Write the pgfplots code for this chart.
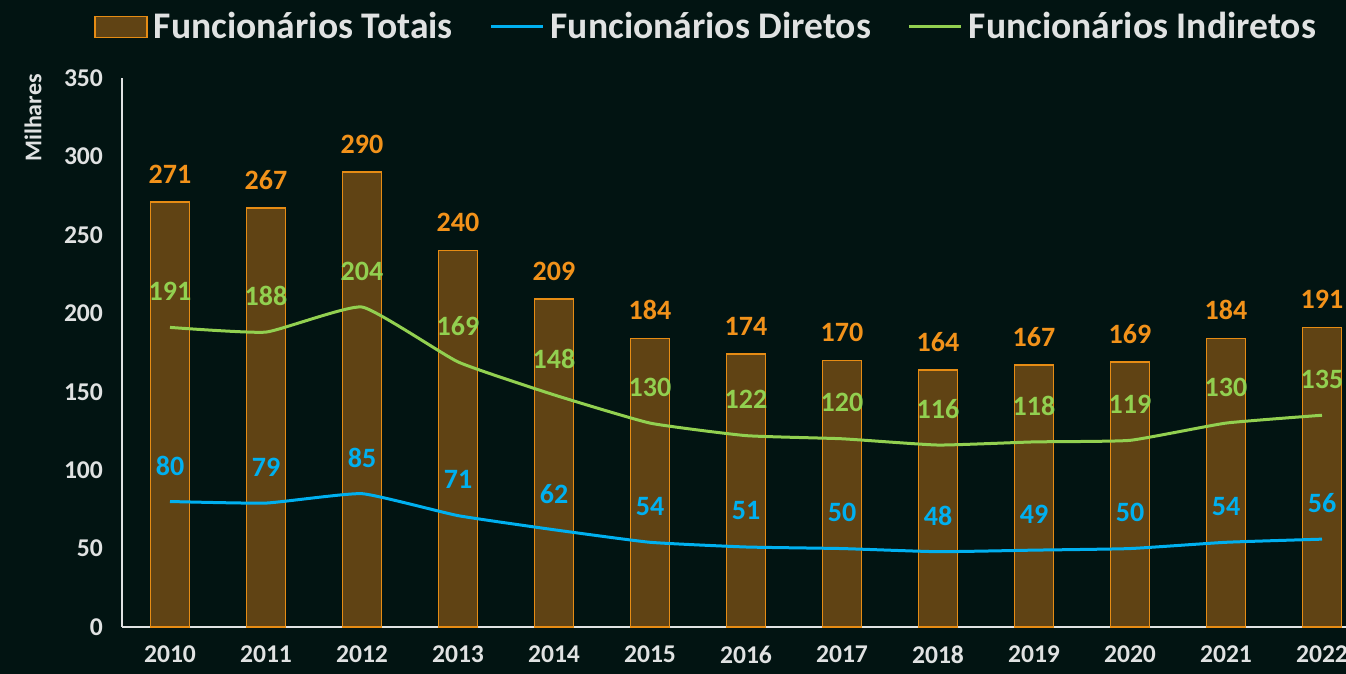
\documentclass[border=0pt]{standalone}
\usepackage{pgfplots}
\pgfplotsset{compat=1.18}
\usepackage{fontspec}
\setmainfont{Carlito}
\definecolor{bgc}{RGB}{2,20,18}
\definecolor{barfill}{RGB}{96,67,20}
\definecolor{baredge}{RGB}{230,140,20}
\definecolor{orlab}{RGB}{242,146,26}
\definecolor{blueline}{RGB}{0,176,240}
\definecolor{greenline}{RGB}{146,208,80}
\definecolor{txt}{RGB}{224,226,226}
\pgfplotsset{
  barleg/.style={legend image code/.code={\draw[##1] (0pt,-5.25pt) rectangle (26pt,5.25pt);}},
  lineleg/.style={legend image code/.code={\draw[##1] (0pt,0pt) -- (26pt,0pt);}},
}
\begin{document}
\begin{tikzpicture}[x=0.5pt,y=0.5pt]
\useasboundingbox[fill=bgc] (0,0) rectangle (1346,674);
\begin{axis}[
  at={(61pt,23.5pt)}, anchor=south west,
  scale only axis, width=612pt, height=274.5pt,
  xmin=-0.5, xmax=12.25, ymin=0, ymax=350,
  axis x line=bottom, axis y line=left,
  axis line style={draw=txt, line width=1pt, -},
  xtick={0,...,12},
  xticklabels={2010,2011,2012,2013,2014,2015,2016,2017,2018,2019,2020,2021,2022},
  ytick={0,50,...,350},
  major tick length=0pt,
  /pgf/number format/assume math mode=true,
  tick label style={font=\fontsize{12.8}{14}\selectfont\bfseries, text=txt},
  xticklabel style={yshift=-6pt},
  yticklabel style={xshift=-6pt},
  ylabel={Milhares},
  ylabel style={at={(axis description cs:-0.0727,0.927)}, anchor=center, font=\fontsize{12}{14}\selectfont\bfseries, text=txt},
  clip=false,
  legend columns=3,
  legend style={at={(axis description cs:0.478,1.093)}, anchor=center, draw=none, fill=none,
    text=txt, font=\fontsize{18.8}{21}\selectfont\bfseries,
    /tikz/every even column/.append style={column sep=16.5pt},
    /tikz/every odd column/.append style={column sep=1pt}},
  nodes near coords,
  every node near coord/.append style={font=\fontsize{14}{16}\selectfont\bfseries, anchor=center},
]
\addplot[ybar, bar width=19.5pt, fill=barfill, draw=baredge, line width=0.8pt,
  every node near coord/.append style={text=orlab, yshift=14pt}, barleg]
  coordinates {(0,271) (1,267) (2,290) (3,240) (4,209) (5,184) (6,174) (7,170) (8,164) (9,167) (10,169) (11,184) (12,191)};
\addlegendentry{Funcionários Totais}
\addplot[blueline, line width=1.5pt, smooth, tension=0.25, mark=none,
  every node near coord/.append style={text=blueline, yshift=18pt}, lineleg]
  coordinates {(0,80) (1,79) (2,85) (3,71) (4,62) (5,54) (6,51) (7,50) (8,48) (9,49) (10,50) (11,54) (12,56)};
\addlegendentry{Funcionários Diretos}
\addplot[greenline, line width=1.5pt, smooth, tension=0.25, mark=none,
  every node near coord/.append style={text=greenline, yshift=18pt}, lineleg]
  coordinates {(0,191) (1,188) (2,204) (3,169) (4,148) (5,130) (6,122) (7,120) (8,116) (9,118) (10,119) (11,130) (12,135)};
\addlegendentry{Funcionários Indiretos}
\end{axis}
\end{tikzpicture}
\end{document}
